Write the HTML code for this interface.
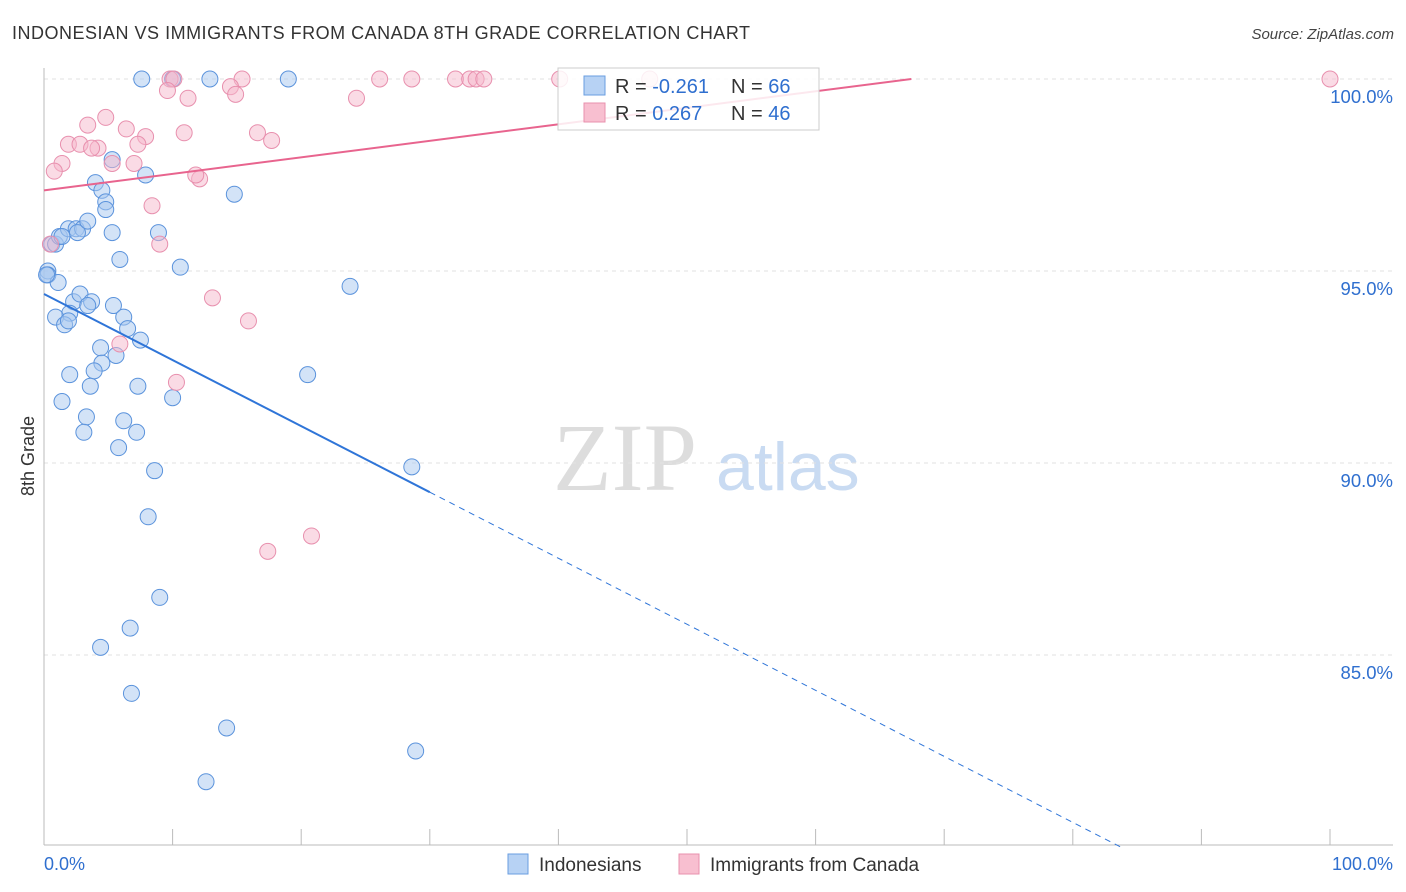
<!DOCTYPE html>
<html><head><meta charset="utf-8"><style>
body{margin:0;background:#fff;font-family:"Liberation Sans",sans-serif;}
svg{display:block}
</style></head><body>
<svg id="chart" width="1406" height="892" xmlns="http://www.w3.org/2000/svg" font-family="Liberation Sans, sans-serif">
<text x="12" y="39" font-size="18" fill="#333" textLength="738">INDONESIAN VS IMMIGRANTS FROM CANADA 8TH GRADE CORRELATION CHART</text>
<text x="1394" y="39" font-size="15" fill="#444" text-anchor="end" font-style="italic">Source: ZipAtlas.com</text>
<text transform="translate(34,456) rotate(-90)" font-size="18" fill="#333" text-anchor="middle">8th Grade</text>
<text x="553" y="490" font-size="96" fill="#ddd" font-family="Liberation Serif, serif">ZIP</text>
<text x="716" y="490" font-size="68" fill="#c9dbf2">atlas</text>
<g id="grid"></g><g id="marks"></g><g id="lines"></g>
<g>
<rect x="558" y="68" width="261" height="62" fill="#fff" fill-opacity="0.85" stroke="#ccc"/>
<rect x="584" y="76" width="21" height="19" fill="#b7d2f4" stroke="#6a9ee0"/>
<rect x="584" y="103" width="21" height="19" fill="#f8bfd0" stroke="#e890ae"/>
<text x="615" y="93" font-size="20" fill="#333">R = <tspan fill="#2f6fcf">-0.261</tspan></text>
<text x="731" y="93" font-size="20" fill="#333">N = <tspan fill="#2f6fcf">66</tspan></text>
<text x="615" y="120" font-size="20" fill="#333">R = <tspan fill="#2f6fcf"> 0.267</tspan></text>
<text x="731" y="120" font-size="20" fill="#333">N = <tspan fill="#2f6fcf">46</tspan></text>
</g>
<g>
<rect x="508" y="854" width="20" height="20" fill="#b7d2f4" stroke="#6a9ee0"/>
<text x="539" y="871" font-size="19" fill="#333">Indonesians</text>
<rect x="679" y="854" width="20" height="20" fill="#f8bfd0" stroke="#e890ae"/>
<text x="710" y="871" font-size="19" fill="#333">Immigrants from Canada</text>
</g>
<text x="44" y="870" font-size="18" fill="#2f6fcf">0.0%</text>
<text x="1393" y="870" font-size="18" fill="#2f6fcf" text-anchor="end">100.0%</text>
</svg>
<script>
const yTicks=[100,95,90,85];
const blueX=[7.6,10.0,12.9,19.0,0.6,0.9,0.3,0.3,1.1,0.2,1.2,1.9,2.5,3.0,2.6,3.4,4.0,4.5,4.8,4.8,5.3,5.3,7.9,8.9,14.8,5.9,10.6,23.8,2.3,2.8,3.7,3.4,2.0,0.9,1.6,1.9,5.4,6.2,6.5,7.5,4.4,5.6,4.5,3.9,2.0,3.6,7.3,1.4,3.3,10.0,20.5,3.1,6.2,7.2,5.8,8.6,28.6,8.1,9.0,6.7,4.4,6.8,14.2,28.9,12.6,1.4];
const blueY=[100,100,100,100,95.7,95.7,95.0,94.9,94.7,94.9,95.9,96.1,96.1,96.1,96.0,96.3,97.3,97.1,96.8,96.6,97.9,96.0,97.5,96.0,97.0,95.3,95.1,94.6,94.2,94.4,94.2,94.1,93.9,93.8,93.6,93.7,94.1,93.8,93.5,93.2,93.0,92.8,92.6,92.4,92.3,92.0,92.0,91.6,91.2,91.7,92.3,90.8,91.1,90.8,90.4,89.8,89.9,88.6,86.5,85.7,85.2,84.0,83.1,82.5,81.7,95.9];
const pinkX=[9.8,10.1,15.4,14.5,26.1,28.6,32.0,33.1,33.6,34.2,40.1,47.1,100,9.6,11.2,14.9,24.3,4.8,3.4,6.4,10.9,7.9,16.6,17.7,1.9,2.8,4.2,3.7,7.3,1.4,7.0,5.3,0.8,12.1,11.8,8.4,9.0,0.5,13.1,15.9,5.9,10.3,17.4,20.8];
const pinkY=[100,100,100,99.8,100,100,100,100,100,100,100,100,100,99.7,99.5,99.6,99.5,99.0,98.8,98.7,98.6,98.5,98.6,98.4,98.3,98.3,98.2,98.2,98.3,97.8,97.8,97.8,97.6,97.4,97.5,96.7,95.7,95.7,94.3,93.7,93.1,92.1,87.7,88.1];
const blueTrend=[94.4,-0.172]; // intercept, slope
const pinkTrend=[97.1,0.043];
const X=v=>44+v*12.86, Y=v=>79+(100-v)*38.4;
const NS="http://www.w3.org/2000/svg";
function mk(t,a,p){const e=document.createElementNS(NS,t);for(const k in a)e.setAttribute(k,a[k]);p.appendChild(e);return e;}
const grid=document.getElementById('grid');
yTicks.forEach(t=>{
 const l=mk('line',{x1:44,x2:1393,y1:Y(t),y2:Y(t),stroke:'#e2e2e2','stroke-dasharray':'4,4'},grid);
 
 
 const tx=mk('text',{x:1393,y:Y(t)+24,'font-size':18.5,fill:'#2f6fcf','text-anchor':'end'},grid);
 tx.textContent=t.toFixed(1)+'%';
 
 
});
mk('line',{x1:44,x2:44,y1:68,y2:845,stroke:'#bbb'},grid);
mk('line',{x1:44,x2:1393,y1:845,y2:845,stroke:'#bbb'},grid);
for(let i=0;i<=10;i++){const t=mk('line',{x1:X(i*10),x2:X(i*10),y1:829,y2:845,stroke:'#bbb'},grid);
 
 }
const marks=document.getElementById('marks');
blueX.forEach((x,i)=>{const c=mk('circle',{cx:X(x),cy:Y(blueY[i]),r:8,fill:'#a8c8f0','fill-opacity':0.5,stroke:'#5b93dc','stroke-width':1},marks);
 
 });
pinkX.forEach((x,i)=>{const c=mk('circle',{cx:X(x),cy:Y(pinkY[i]),r:8,fill:'#f5b8cb','fill-opacity':0.5,stroke:'#e890ae','stroke-width':1},marks);
 
 });
const lines=document.getElementById('lines');
const bf=x=>blueTrend[0]+blueTrend[1]*x;
const b1=mk('line',{x1:X(0),y1:Y(bf(0)),x2:X(30),y2:Y(bf(30)),stroke:'#2f75d8','stroke-width':2},lines);


const xEnd=(80-blueTrend[0])/blueTrend[1];
const b2=mk('line',{x1:X(30),y1:Y(bf(30)),x2:X(xEnd),y2:Y(bf(xEnd)),stroke:'#2f75d8','stroke-width':1,'stroke-dasharray':'6,5'},lines);


const pf=x=>pinkTrend[0]+pinkTrend[1]*x;
const pEnd=(100-pinkTrend[0])/pinkTrend[1];
const p1=mk('line',{x1:X(0),y1:Y(pf(0)),x2:X(pEnd),y2:Y(100),stroke:'#e8648e','stroke-width':2},lines);


</script>
</body></html>
